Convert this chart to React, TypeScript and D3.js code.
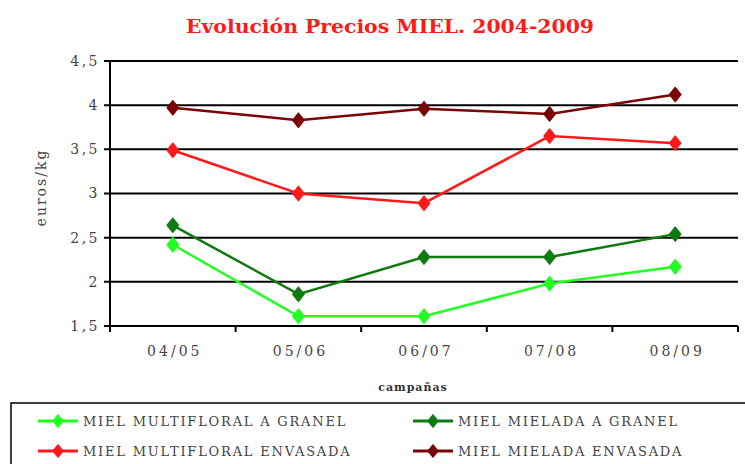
import { useMemo } from 'react';
import * as d3 from 'd3';

const campaigns = ['04/05', '05/06', '06/07', '07/08', '08/09'];
const yTickValues = [1.5, 2, 2.5, 3, 3.5, 4, 4.5];
const yTickLabels = ['1,5', '2', '2,5', '3', '3,5', '4', '4,5'];

const multifloralGranel = [2.42, 1.61, 1.61, 1.98, 2.17];
const mieladaGranel = [2.64, 1.86, 2.28, 2.28, 2.54];
const multifloralEnvasada = [3.49, 3.0, 2.89, 3.65, 3.57];
const mieladaEnvasada = [3.97, 3.83, 3.96, 3.9, 4.12];

const seriesNames = [
  'MIEL MULTIFLORAL A GRANEL',
  'MIEL MIELADA A GRANEL',
  'MIEL MULTIFLORAL ENVASADA',
  'MIEL MIELADA ENVASADA',
];

const seriesColors = ['#22ff22', '#0f7a0f', '#ff1a1a', '#7a0505'];

const FONT = 'DejaVu Serif';

function Diamond({ x, y, color, r = 7 }: { x: number; y: number; color: string; r?: number }) {
  return (
    <path
      d={`M${x},${y - r} L${x + r * 0.8},${y} L${x},${y + r} L${x - r * 0.8},${y} Z`}
      fill={color}
      stroke={color}
      strokeWidth={1.5}
      strokeLinejoin="round"
    />
  );
}

export default function App() {
  const width = 745;
  const height = 464;
  const margin = { top: 61, right: 7, bottom: 138, left: 110 };
  const innerWidth = width - margin.left - margin.right;
  const innerHeight = height - margin.top - margin.bottom;

  const series = [multifloralGranel, mieladaGranel, multifloralEnvasada, mieladaEnvasada];

  const { x, y } = useMemo(() => {
    const x = d3.scaleBand<string>().domain(campaigns).range([0, innerWidth]);
    const y = d3.scaleLinear().domain([1.5, 4.5]).range([innerHeight, 0]);
    return { x, y };
  }, [innerWidth, innerHeight]);

  const line = d3
    .line<number>()
    .x((_, i) => (x(campaigns[i]) ?? 0) + x.bandwidth() / 2)
    .y((d) => y(d));

  const boundaries = [...campaigns.map((c) => x(c) ?? 0), innerWidth];

  return (
    <svg
      width={width}
      height={height}
      viewBox={`0 0 ${width} ${height}`}
      style={{ position: 'absolute', left: 0, top: 0, background: '#fff' }}
    >
      {/* Title */}
      <text
        x={390}
        y={33}
        textAnchor="middle"
        fill="#ff1a1a"
        fontSize={19}
        fontWeight="bold"
        fontFamily={FONT}
        textLength={408}
        lengthAdjust="spacingAndGlyphs"
      >
        Evolución Precios MIEL. 2004-2009
      </text>

      <g transform={`translate(${margin.left},${margin.top})`}>
        {/* Grid */}
        {yTickValues.map((t, i) => (
          <g key={`y-${i}`} transform={`translate(0,${y(t)})`}>
            <line x1={-6} x2={innerWidth} stroke="#000" strokeWidth={2} />
            <text
              x={-10}
              dy="0.35em"
              textAnchor="end"
              fill="#444"
              fontSize={14}
              letterSpacing={2.5}
              fontFamily={FONT}
            >
              {yTickLabels[i]}
            </text>
          </g>
        ))}

        {/* Y axis */}
        <line x1={0} x2={0} y1={0} y2={innerHeight} stroke="#000" strokeWidth={2} />

        {/* X axis ticks */}
        {boundaries.map((b, i) => (
          <line key={`xt-${i}`} x1={b} x2={b} y1={innerHeight} y2={innerHeight + 6} stroke="#000" strokeWidth={2} />
        ))}
        {campaigns.map((c) => (
          <text
            key={c}
            x={(x(c) ?? 0) + x.bandwidth() / 2 + 2}
            y={innerHeight + 30}
            textAnchor="middle"
            fill="#444"
            fontSize={14}
            letterSpacing={3}
            fontFamily={FONT}
          >
            {c}
          </text>
        ))}

        <text
          x={303}
          y={innerHeight + 65}
          textAnchor="middle"
          fill="#333"
          fontSize={11}
          fontWeight="bold"
          letterSpacing={1}
          fontFamily={FONT}
        >
          campañas
        </text>

        <text
          transform={`translate(-64,${innerHeight / 2 - 6}) rotate(-90)`}
          textAnchor="middle"
          fill="#444"
          fontSize={14}
          letterSpacing={2}
          fontFamily={FONT}
        >
          euros/kg
        </text>

        {/* Lines */}
        {series.map((s, si) => (
          <g key={`s-${si}`}>
            <path d={line(s) ?? ''} fill="none" stroke={seriesColors[si]} strokeWidth={2.5} />
            {s.map((v, i) => (
              <Diamond
                key={i}
                x={(x(campaigns[i]) ?? 0) + x.bandwidth() / 2}
                y={y(v)}
                color={seriesColors[si]}
              />
            ))}
          </g>
        ))}
      </g>

      {/* Legend */}
      <rect x={11} y={403} width={745} height={80} fill="none" stroke="#000" strokeWidth={1.5} />
      {seriesNames.map((name, i) => {
        const lx = i % 2 === 0 ? 38 : 413;
        const ly = i < 2 ? 421 : 451;
        return (
          <g key={name}>
            <line x1={lx} x2={lx + 40} y1={ly} y2={ly} stroke={seriesColors[i]} strokeWidth={3} />
            <Diamond x={lx + 20} y={ly} color={seriesColors[i]} r={6} />
            <text
              x={lx + 45}
              y={ly}
              dy="0.35em"
              fill="#444"
              fontSize={13}
              letterSpacing={1.8}
              fontFamily={FONT}
            >
              {name}
            </text>
          </g>
        );
      })}
    </svg>
  );
}
